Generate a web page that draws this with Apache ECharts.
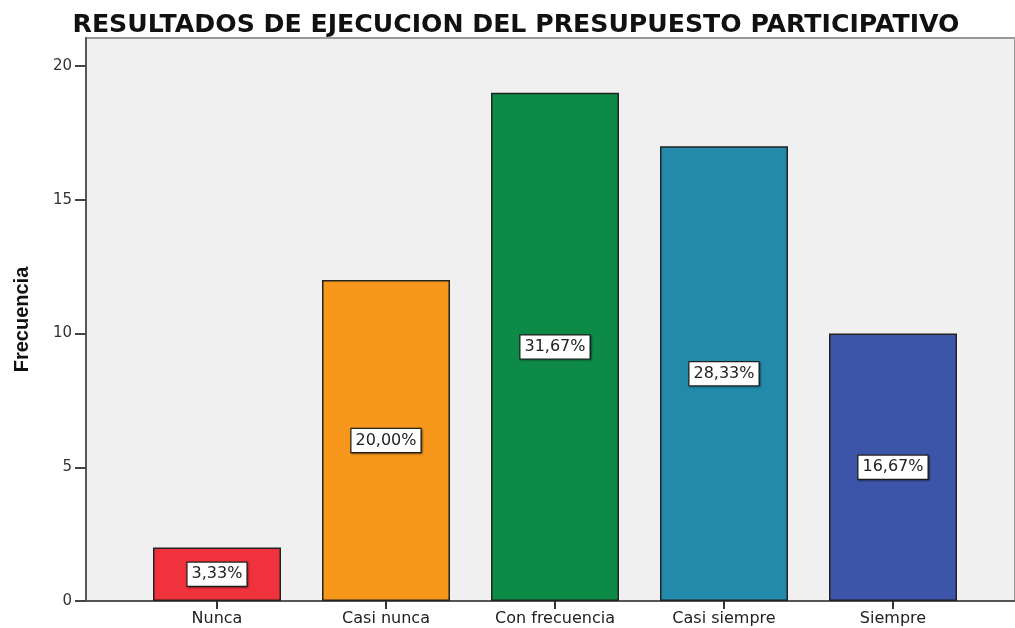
<!DOCTYPE html>
<html>
<head>
<meta charset="utf-8">
<script src="https://cdn.jsdelivr.net/npm/echarts@6/dist/echarts.min.js"></script>
<style>
  html, body { margin: 0; padding: 0; background: #fff; }
  #main { width: 1015px; height: 628px; }
</style>
</head>
<body>
<div id="main"></div>
<script>
// datos del gráfico
const categorias = ["Nunca", "Casi nunca", "Con frecuencia", "Casi siempre", "Siempre"];
const frecuencias = [2, 12, 19, 17, 10];
const porcentajes = ["3,33%", "20,00%", "31,67%", "28,33%", "16,67%"];
const colores = ["#f0323c", "#f7981d", "#0e8a47", "#238aab", "#3c55a9"];
const ticksY = [0, 5, 10, 15, 20];

const myChart = echarts.init(document.getElementById("main"));

const fuente = "DejaVu Sans";

var option = {
  animation: false,
  backgroundColor: "#fff",
  title: {
    text: "RESULTADOS DE EJECUCION DEL PRESUPUESTO PARTICIPATIVO",
    left: 511,
    textAlign: "center",
    top: 8,
    textStyle: {
      fontFamily: fuente,
      fontWeight: "bold",
      fontSize: 25.2,
      color: "#111",
    },
  },
  grid: [
    // fondo gris
    {
      left: 86, top: 38, right: -3, bottom: 27,
      show: true,
      backgroundColor: "#f0f0f0",
      borderColor: "#999",
      borderWidth: 2,
    },
    // barras
    {
      left: 132.5, top: 66, right: 37.5, bottom: 27,
    },
  ],
  xAxis: [
    {
      gridIndex: 0, type: "value", min: 0, max: 1,
      axisLine: { show: true, lineStyle: { color: "#555", width: 2 } },
      axisTick: { show: false }, axisLabel: { show: false }, splitLine: { show: false },
    },
    {
      gridIndex: 1, type: "category", data: categorias,
      axisLine: { show: false },
      axisTick: { show: true, alignWithLabel: true, length: 8, lineStyle: { color: "#333", width: 2 } },
      axisLabel: { fontFamily: fuente, fontSize: 16, color: "#222", margin: 10 },
    },
  ],
  yAxis: [
    {
      gridIndex: 0, type: "value", min: 0, max: 1,
      name: "Frecuencia",
      nameLocation: "middle",
      nameGap: 54,
      nameTextStyle: { fontFamily: "Liberation Sans", fontWeight: "bold", fontSize: 20, color: "#111" },
      axisLine: { show: true, lineStyle: { color: "#555", width: 2 } },
      axisTick: { show: false }, axisLabel: { show: false }, splitLine: { show: false },
    },
    {
      gridIndex: 1, type: "value",
      min: ticksY[0], max: ticksY[ticksY.length - 1], interval: 5,
      offset: 46.5,
      axisLine: { show: false },
      axisTick: { show: true, length: 11, lineStyle: { color: "#444", width: 2 } },
      axisLabel: { fontFamily: fuente, fontSize: 15, color: "#333", margin: 14 },
      splitLine: { show: false },
    },
  ],
  series: [
    {
      type: "bar",
      xAxisIndex: 1,
      yAxisIndex: 1,
      barWidth: 128,
      data: frecuencias.map((v, i) => ({
        value: v,
        itemStyle: { color: colores[i], borderColor: "#222", borderWidth: 1.5 },
      })),
      label: {
        show: true,
        position: "inside",
        formatter: (p) => porcentajes[p.dataIndex],
        fontFamily: fuente,
        fontSize: 16,
        color: "#222",
        backgroundColor: "#fff",
        borderColor: "#222",
        borderWidth: 1.2,
        padding: [4, 4, 3, 4],
        shadowColor: "rgba(0,0,0,0.35)",
        shadowBlur: 2,
        shadowOffsetX: 1,
        shadowOffsetY: 1,
      },
    },
  ],
};

option && myChart.setOption(option);
</script>
</body>
</html>
